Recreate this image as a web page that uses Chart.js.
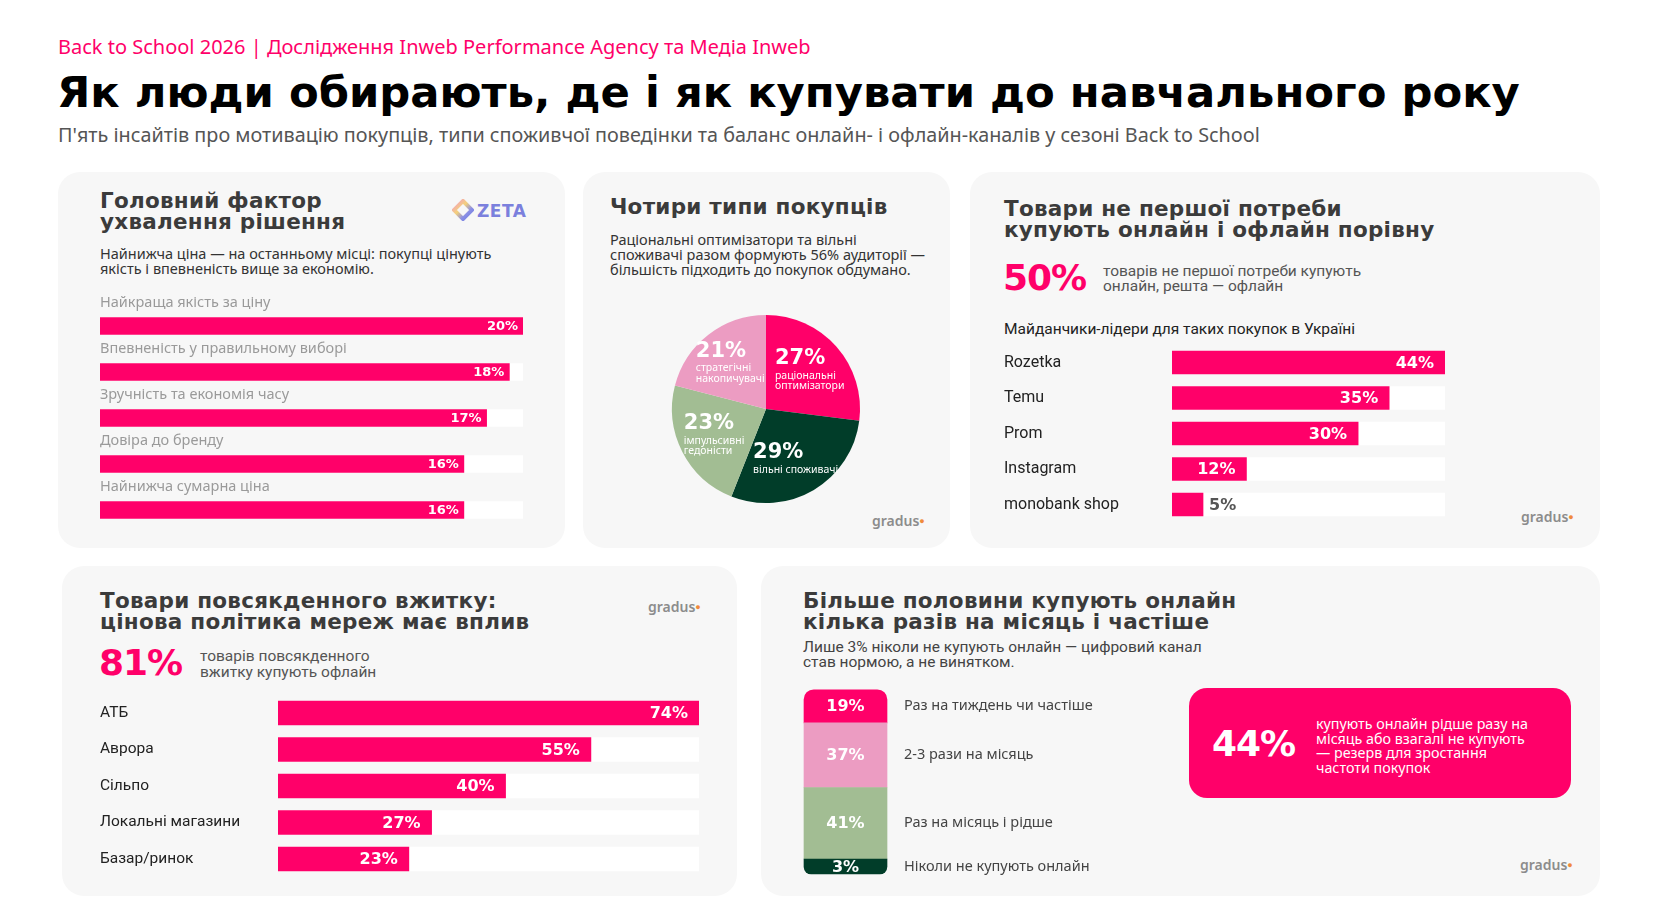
<!DOCTYPE html>
<html lang="uk">
<head>
<meta charset="utf-8">
<title>Back to School 2026</title>
<script src="https://cdn.jsdelivr.net/npm/chart.js@4.4.1/dist/chart.umd.min.js"></script>
<style>
    body { margin: 0; background: #fff; }
    #page { position: relative; width: 1659px; height: 924px; overflow: hidden; font-family: "Noto Sans", sans-serif; }
    #page div, #page canvas { position: absolute; }
    .card { background: #f7f7f7; border-radius: 22px; }
    .kicker { color: #ff0069; font-size: 20px; line-height: 24px; white-space: nowrap; }
    .headline { color: #000; font-family: "DejaVu Sans", sans-serif; font-weight: bold; font-size: 43.3px; line-height: 48px; white-space: nowrap; }
    .lead { color: #555; font-size: 19.8px; line-height: 24px; white-space: nowrap; }
    .ttl { color: #3b3b3b; font-family: "DejaVu Sans", sans-serif; font-weight: bold; font-size: 21.5px; line-height: 21px; white-space: nowrap; letter-spacing: 0.25px; }
    .txt { color: #333; font-size: 14.5px; line-height: 15px; white-space: nowrap; }
    .cond { color: #444; font-family: Roboto, sans-serif; font-size: 15.5px; line-height: 16px; white-space: nowrap; }
    .big { color: #ff0069; font-family: "DejaVu Sans", sans-serif; font-weight: bold; font-size: 36px; line-height: 40px; letter-spacing: -1px; }
    .gradus { color: #8c8c8c; font-family: "Noto Sans", sans-serif; font-weight: 600; font-size: 14px; line-height: 16px; }
    .gradus span { color: #f08a3c; font-size: 9px; vertical-align: top; }
</style>
</head>
<body>
<div id="page">
    <div class="kicker" style="left:58px;top:35px">Back to School 2026 | Дослідження Inweb Performance Agency та Медіа Inweb</div>
    <div class="headline" style="left:57px;top:68px">Як люди обирають, де і як купувати до навчального року</div>
    <div class="lead" style="left:58px;top:123px">П'ять інсайтів про мотивацію покупців, типи споживчої поведінки та баланс онлайн- і офлайн-каналів у сезоні Back to School</div>

    <!-- card 1 -->
    <div class="card" style="left:58px;top:172px;width:507px;height:376px"></div>
    <div class="ttl" style="left:100px;top:190px">Головний фактор<br>ухвалення рішення</div>
    <div style="left:452px;top:199px;width:80px;height:24px">
        <svg width="22" height="22" viewBox="0 0 22 22" style="position:absolute;left:0;top:0">
            <defs><linearGradient id="zg" x1="0" y1="0" x2="1" y2="1">
                <stop offset="0" stop-color="#f29ac8"/><stop offset="0.4" stop-color="#f5d27a"/><stop offset="0.7" stop-color="#8a8fe6"/><stop offset="1" stop-color="#6f7be0"/>
            </linearGradient></defs>
            <path d="M11 2 L20 11 L11 20 L2 11 Z" fill="none" stroke="url(#zg)" stroke-width="4"/>
        </svg>
        <div style="left:25px;top:0;color:#7b80dd;font-family:'DejaVu Sans',sans-serif;font-weight:bold;font-size:17px;line-height:24px;letter-spacing:0.5px">ZETA</div>
    </div>
    <div class="txt" style="left:100px;top:246px">Найнижча ціна — на останньому місці: покупці цінують<br>якість і впевненість вище за економію.</div>
    <canvas id="factorChart" width="424" height="253" style="left:100px;top:290px"></canvas>

    <!-- card 2 -->
    <div class="card" style="left:583px;top:172px;width:367px;height:376px"></div>
    <div class="ttl" style="left:610px;top:196px">Чотири типи покупців</div>
    <div class="txt" style="left:610px;top:232px">Раціональні оптимізатори та вільні<br>споживачі разом формують 56% аудиторії —<br>більшість підходить до покупок обдумано.</div>
    <canvas id="typesChart" width="200" height="200" style="left:666px;top:309px"></canvas>
    <div class="gradus" style="left:872px;top:513px">gradus<span>●</span></div>

    <!-- card 3 -->
    <div class="card" style="left:970px;top:172px;width:630px;height:376px"></div>
    <div class="ttl" style="left:1004px;top:198px">Товари не першої потреби<br>купують онлайн і офлайн порівну</div>
    <div class="big" style="left:1003px;top:258px">50%</div>
    <div class="cond" style="left:1103px;top:264px;color:#555;line-height:15px">товарів не першої потреби купують<br>онлайн, решта — офлайн</div>
    <div class="cond" style="left:1004px;top:320px;color:#222;line-height:18px">Майданчики-лідери для таких покупок в Україні</div>
    <canvas id="platformChart" width="450" height="185" style="left:1000px;top:340px"></canvas>
    <div class="gradus" style="left:1521px;top:509px">gradus<span>●</span></div>

    <!-- card 4 -->
    <div class="card" style="left:62px;top:566px;width:675px;height:330px"></div>
    <div class="ttl" style="left:100px;top:590px">Товари повсякденного вжитку:<br>цінова політика мереж має вплив</div>
    <div class="gradus" style="left:648px;top:599px">gradus<span>●</span></div>
    <div class="big" style="left:99px;top:643px">81%</div>
    <div class="cond" style="left:200px;top:648px;color:#555">товарів повсякденного<br>вжитку купують офлайн</div>
    <canvas id="storeChart" width="610" height="192" style="left:96px;top:690px"></canvas>

    <!-- card 5 -->
    <div class="card" style="left:761px;top:566px;width:839px;height:330px"></div>
    <div class="ttl" style="left:803px;top:590px">Більше половини купують онлайн<br>кілька разів на місяць і частіше</div>
    <div class="cond" style="left:803px;top:640px;color:#444;line-height:15px">Лише 3% ніколи не купують онлайн — цифровий канал<br>став нормою, а не винятком.</div>
    <canvas id="freqChart" width="300" height="200" style="left:800px;top:680px"></canvas>
    <div style="left:1189px;top:688px;width:382px;height:110px;background:#ff0069;border-radius:18px"></div>
    <div class="big" style="left:1212px;top:724px;color:#fff">44%</div>
    <div class="txt" style="left:1316px;top:717px;color:#fff;font-size:14.3px;line-height:14.7px">купують онлайн рідше разу на<br>місяць або взагалі не купують<br>— резерв для зростання<br>частоти покупок</div>
    <div class="gradus" style="left:1520px;top:857px">gradus<span>●</span></div>
</div>

<script>
const PINK = '#ff0069';
const LIGHT_PINK = '#ec9cc2';
const SAGE = '#a2bd93';
const DARK_GREEN = '#013d29';

// card 1: decision factor
const factorLabels = ['Найкраща якість за ціну', 'Впевненість у правильному виборі', 'Зручність та економія часу', 'Довіра до бренду', 'Найнижча сумарна ціна'];
const factorValues = [20, 18, 17, 16, 16];
const factorAxisMax = 18.6; // original scale tops out below the leader, which fills the track

// card 2: buyer types (clockwise from the top)
const typeNames = ['раціональні\nоптимізатори', 'вільні споживачі', 'імпульсивні\nгедоністи', 'стратегічні\nнакопичувачі'];
const typeValues = [27, 29, 23, 21];
const typeColors = [PINK, DARK_GREEN, SAGE, LIGHT_PINK];

// card 3: platforms
const platformLabels = ['Rozetka', 'Temu', 'Prom', 'Instagram', 'monobank shop'];
const platformValues = [44, 35, 30, 12, 5];

// card 4: grocery chains
const storeLabels = ['АТБ', 'Аврора', 'Сільпо', 'Локальні магазини', 'Базар/ринок'];
const storeValues = [74, 55, 40, 27, 23];

// card 5: online purchase frequency (top to bottom)
const freqLabels = ['Раз на тиждень чи частіше', '2-3 рази на місяць', 'Раз на місяць і рідше', 'Ніколи не купують онлайн'];
const freqValues = [19, 37, 41, 3];
const freqColors = [PINK, LIGHT_PINK, SAGE, DARK_GREEN];

const VALUE_FONT = 'bold 16px "DejaVu Sans"';

// labels for horizontal bar charts: category name + value inside (or after) the bar
const barText = {
    id: 'barText',
    afterDatasetsDraw(chart, args, o) {
        const { ctx, chartArea } = chart;
        const meta = chart.getDatasetMeta(0);
        const values = chart.data.datasets[0].data;
        ctx.save();
        ctx.textBaseline = 'middle';
        meta.data.forEach((bar, i) => {
            ctx.font = o.labelFont;
            ctx.fillStyle = o.labelColor;
            ctx.textAlign = 'left';
            ctx.fillText(chart.data.labels[i], o.labelX, bar.y - o.labelAbove);

            const end = Math.min(bar.x, chartArea.right);
            const txt = values[i] + '%';
            ctx.font = o.valueFont;
            const w = ctx.measureText(txt).width;
            if (end - bar.base > w + 2 * o.pad) {
                ctx.fillStyle = '#fff';
                ctx.textAlign = 'right';
                ctx.fillText(txt, end - o.pad, bar.y + 1);
            } else {
                ctx.fillStyle = '#555';
                ctx.textAlign = 'left';
                ctx.fillText(txt, end + 6, bar.y + 1);
            }
        });
        ctx.restore();
    }
};

function hBarChart(id, labels, values, max, thickness, padding, text) {
    new Chart(document.getElementById(id), {
        type: 'bar',
        data: {
            labels: labels,
            datasets: [
                { data: values, backgroundColor: PINK, barThickness: thickness, grouped: false, order: 0, clip: 0 },
                { data: labels.map(() => max), backgroundColor: '#ffffff', barThickness: thickness, grouped: false, order: 1 }
            ]
        },
        options: {
            indexAxis: 'y',
            responsive: false,
            animation: false,
            layout: { padding: padding },
            scales: {
                x: { display: false, min: 0, max: max },
                y: { display: false }
            },
            plugins: { legend: { display: false }, tooltip: { enabled: false }, barText: text }
        },
        plugins: [barText]
    });
}

hBarChart('factorChart', factorLabels, factorValues, factorAxisMax, 17,
    { left: 0, right: 1, top: 13, bottom: 10 },
    { labelX: 0, labelAbove: 23, labelFont: '14.5px "Noto Sans"', labelColor: '#9a9a9a', valueFont: 'bold 13px "DejaVu Sans"', pad: 5 });

hBarChart('platformChart', platformLabels, platformValues, 44, 23,
    { left: 172, right: 5, top: 4.75, bottom: 2.75 },
    { labelX: 4, labelAbove: 0, labelFont: '16px Roboto', labelColor: '#222', valueFont: VALUE_FONT, pad: 11 });

hBarChart('storeChart', storeLabels, storeValues, 74, 24,
    { left: 182, right: 7, top: 4.75, bottom: 4.75 },
    { labelX: 4, labelAbove: 0, labelFont: '15.5px Roboto', labelColor: '#222', valueFont: VALUE_FONT, pad: 11 });

// card 2: pie with labels inside slices
const pieText = {
    id: 'pieText',
    afterDatasetsDraw(chart) {
        const { ctx } = chart;
        const meta = chart.getDatasetMeta(0);
        ctx.save();
        ctx.fillStyle = '#fff';
        ctx.textAlign = 'left';
        ctx.textBaseline = 'middle';
        meta.data.forEach((arc, i) => {
            const mid = (arc.startAngle + arc.endAngle) / 2;
            const r = arc.outerRadius * 0.62;
            const cx = arc.x + Math.cos(mid) * r;
            const cy = arc.y + Math.sin(mid) * r;
            const num = typeValues[i] + '%';
            const lines = chart.data.labels[i].split('\n');
            ctx.font = 'bold 21px "DejaVu Sans"';
            let w = ctx.measureText(num).width;
            ctx.font = '10.5px "Noto Sans"';
            lines.forEach(l => { w = Math.max(w, ctx.measureText(l).width); });
            const numH = 21, lineH = 10.5;
            const top = cy - (numH + lines.length * lineH) / 2;
            const left = cx - w / 2;
            ctx.font = 'bold 21px "DejaVu Sans"';
            ctx.fillText(num, left, top + numH / 2 - 1);
            ctx.font = '10.5px "Noto Sans"';
            lines.forEach((l, k) => ctx.fillText(l, left, top + numH + lineH * (k + 0.5)));
        });
        ctx.restore();
    }
};

new Chart(document.getElementById('typesChart'), {
    type: 'pie',
    data: {
        labels: typeNames,
        datasets: [{ data: typeValues, backgroundColor: typeColors, borderWidth: 0 }]
    },
    options: {
        responsive: false,
        animation: false,
        layout: { padding: 6 },
        plugins: { legend: { display: false }, tooltip: { enabled: false } }
    },
    plugins: [pieText]
});

// card 5: stacked column, bottom segment first
const stackText = {
    id: 'stackText',
    afterDatasetsDraw(chart) {
        const { ctx, chartArea } = chart;
        ctx.save();
        ctx.textBaseline = 'middle';
        chart.data.datasets.forEach((ds, i) => {
            const el = chart.getDatasetMeta(i).data[0];
            const y = (el.y + el.base) / 2;
            ctx.font = VALUE_FONT;
            ctx.fillStyle = '#fff';
            ctx.textAlign = 'center';
            ctx.fillText(ds.data[0] + '%', el.x, y + 1);
            ctx.font = '14.5px "Noto Sans"';
            ctx.fillStyle = '#444';
            ctx.textAlign = 'left';
            ctx.fillText(ds.label, chartArea.right + 17, y);
        });
        ctx.restore();
    }
};

const last = freqValues.length - 1;
new Chart(document.getElementById('freqChart'), {
    type: 'bar',
    data: {
        labels: ['online'],
        datasets: freqValues.map((v, k) => ({
            label: freqLabels[k],
            data: [v],
            backgroundColor: freqColors[k],
            barThickness: 83,
            borderSkipped: false,
            minBarLength: 15,
            clip: false,
            borderRadius: k === 0 ? { topLeft: 10, topRight: 10, bottomLeft: 0, bottomRight: 0 }
                : k === last ? { topLeft: 0, topRight: 0, bottomLeft: 10, bottomRight: 10 } : 0
        })).reverse()
    },
    options: {
        responsive: false,
        animation: false,
        // the small segment is drawn at its minimum length and pushes the stack up
        layout: { padding: { left: 4, right: 213, top: 19.5, bottom: 6 } },
        scales: {
            x: { display: false, stacked: true },
            y: { display: false, stacked: true, min: 0, max: 100 }
        },
        plugins: { legend: { display: false }, tooltip: { enabled: false } }
    },
    plugins: [stackText]
});
</script>
</body>
</html>
